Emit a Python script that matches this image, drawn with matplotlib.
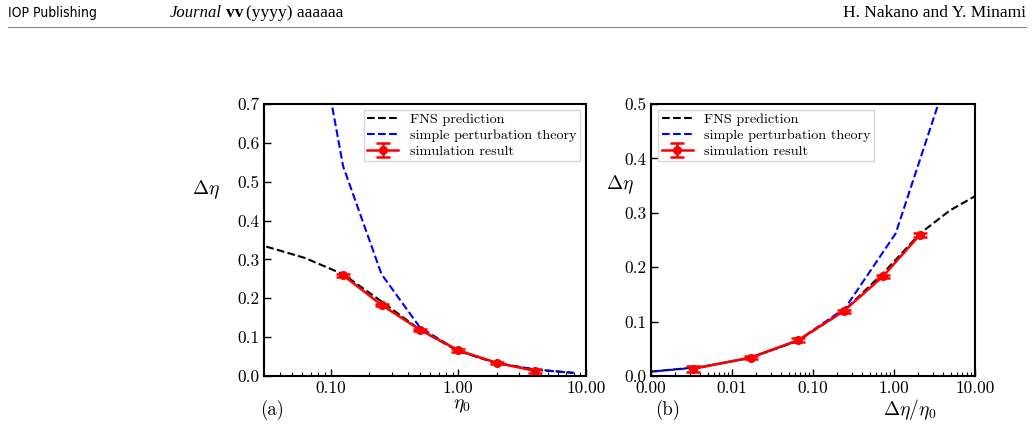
import matplotlib
matplotlib.use("Agg")
import matplotlib.pyplot as plt
from matplotlib.ticker import FormatStrFormatter, LogLocator, NullFormatter, MultipleLocator

plt.rcParams['font.family'] = 'serif'
plt.rcParams['font.serif'] = ['cmr10']
plt.rcParams['mathtext.fontset'] = 'cm'
plt.rcParams['axes.unicode_minus'] = False
plt.rcParams['axes.formatter.use_mathtext'] = True

# ---- data ----
# simulation results
eta0_sim = [0.125, 0.25, 0.5, 1.0, 2.0, 4.0]
deta_sim = [0.259, 0.183, 0.119, 0.066, 0.034, 0.013]
deta_err = [0.003, 0.003, 0.003, 0.003, 0.003, 0.005]
ratio_sim = [2.07, 0.73, 0.238, 0.066, 0.017, 0.0033]

# FNS prediction
eta0_fns = [0.03125, 0.0625, 0.125, 0.25, 0.5, 1.0, 2.0, 4.0, 8.0]
deta_fns = [0.333, 0.304, 0.262, 0.192, 0.119, 0.064, 0.033, 0.017, 0.008]
ratio_fns = [10.66, 4.86, 2.10, 0.768, 0.238, 0.064, 0.0165, 0.00425, 0.001]

# simple perturbation theory
eta0_spt = [0.0625, 0.125, 0.25, 0.5, 1.0, 2.0, 4.0, 8.0]
deta_spt = [1.08, 0.54, 0.262, 0.125, 0.065, 0.033, 0.016, 0.008]
ratio_spt = [17.3, 4.32, 1.048, 0.25, 0.065, 0.0165, 0.004, 0.001]

fig = plt.figure(figsize=(10.34, 4.33), dpi=100)

# header
yh = 1 - 13/433
fig.text(8/1034, yh, "IOP Publishing", fontsize=10, family='DejaVu Sans', stretch='condensed',
         va='center', ha='left')
fig.text(170/1034, yh, "Journal", fontsize=12, family='Liberation Serif', style='italic', va='center', ha='left')
fig.text(226/1034, yh, "vv", fontsize=12.5, family='Liberation Serif', weight='bold', va='center', ha='left')
fig.text(246/1034, yh, "(yyyy) aaaaaa", fontsize=12.5, family='Liberation Serif', va='center', ha='left')
fig.text(1026/1034, yh, "H. Nakano and Y. Minami", fontsize=12.5, family='Liberation Serif', va='center', ha='right')
fig.add_artist(plt.Line2D([8/1034, 1026/1034], [1 - 27/433, 1 - 27/433], color='#888888', lw=0.8))

axL = fig.add_axes([264/1034, 1 - 376/433, 322/1034, 272/433])
axR = fig.add_axes([651/1034, 1 - 376/433, 324/1034, 272/433])

def style(ax):
    ax.set_xscale('log')
    for s in ax.spines.values():
        s.set_linewidth(1.5)
    ax.tick_params(which='both', direction='in', labelsize=12.5, top=False, right=False)
    ax.tick_params(which='major', length=5, width=1)
    ax.tick_params(which='minor', length=3, width=0.8)
    ax.xaxis.set_major_locator(LogLocator(base=10, numticks=10))
    ax.xaxis.set_minor_locator(LogLocator(base=10, subs=range(2, 10), numticks=100))
    ax.xaxis.set_major_formatter(FormatStrFormatter('%.2f'))
    ax.xaxis.set_minor_formatter(NullFormatter())
    ax.yaxis.set_major_locator(MultipleLocator(0.1))
    ax.yaxis.set_major_formatter(FormatStrFormatter('%.1f'))

def draw(ax, xf, xs, xsim):
    ax.plot(xf, deta_fns, '--', color='black', lw=1.5, label='FNS prediction')
    ax.plot(xs, deta_spt, '--', color='blue', lw=1.5, label='simple perturbation theory')
    ax.errorbar(xsim, deta_sim, yerr=deta_err, color='red', marker='o', ms=5.5, lw=1.8,
                capsize=5, capthick=1.8, label='simulation result')

leg_kw = dict(fontsize=10.2, frameon=True, fancybox=False, edgecolor='#cccccc',
              handlelength=2.2, borderpad=0.25, labelspacing=0.2, handletextpad=0.8,
              borderaxespad=0)

# left panel
draw(axL, eta0_fns, eta0_spt, eta0_sim)
style(axL)
axL.set_xlim(0.03, 10)
axL.set_ylim(0, 0.7)
axL.legend(loc='upper right', bbox_to_anchor=(0.981, 0.978), **leg_kw)
axL.set_xlabel(r'$\eta_0$', fontsize=14, va='center')
axL.xaxis.set_label_coords(0.615, -0.11)
axL.set_ylabel(r'$\Delta\eta$', fontsize=14, rotation=0, va='center', ha='center')
axL.yaxis.set_label_coords(-0.18, 0.684)
axL.text(0.025, -0.125, '(a)', transform=axL.transAxes, fontsize=13.5, ha='center', va='center')

# right panel
draw(axR, ratio_fns, ratio_spt, ratio_sim)
style(axR)
axR.set_xlim(0.001, 10)
axR.set_ylim(0, 0.5)
axR.legend(loc='upper left', bbox_to_anchor=(0.022, 0.978), **leg_kw)
axR.set_xlabel(r'$\Delta\eta/\eta_0$', fontsize=14, va='center')
axR.xaxis.set_label_coords(0.80, -0.125)
axR.set_ylabel(r'$\Delta\eta$', fontsize=14, rotation=0, va='center', ha='center')
axR.yaxis.set_label_coords(-0.096, 0.702)
axR.text(0.05, -0.125, '(b)', transform=axR.transAxes, fontsize=13.5, ha='center', va='center')

fig.savefig('out.png', dpi=100)
